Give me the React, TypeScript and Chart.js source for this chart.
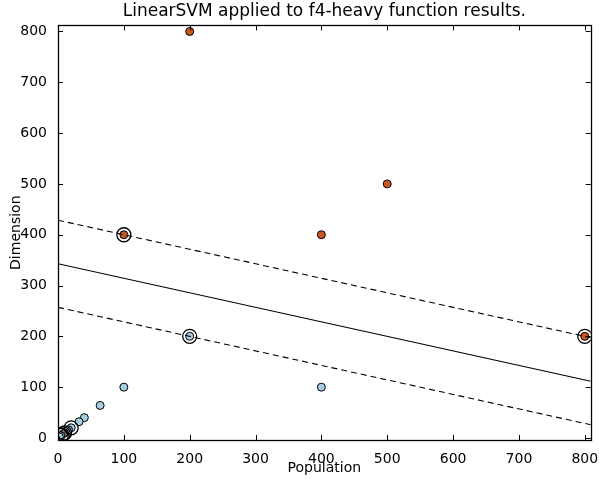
import React, { useEffect, useRef } from "react";
import { Chart, registerables } from "chart.js";
Chart.register(...registerables);

const TITLE = "LinearSVM applied to f4-heavy function results.";
const X_LABEL = "Population";
const Y_LABEL = "Dimension";

const redX = [200, 500, 400, 100, 800];
const redY = [800, 500, 400, 400, 200];

const blueX = [100, 400, 200, 64, 40, 32, 20, 16, 10, 8, 5, 4, 2];
const blueY = [100, 100, 200, 64, 40, 32, 20, 16, 10, 8, 5, 4, 2];

const svX = [100, 800, 200, 20, 10, 8, 5];
const svY = [400, 200, 200, 20, 10, 8, 5];

const lineX = [0, 809];
const solidY = [342.8, 111.7];
const upperY = [428.6, 197.4];
const lowerY = [257.1, 26.0];

const xTicks = [0, 100, 200, 300, 400, 500, 600, 700, 800];
const yTicks = [0, 100, 200, 300, 400, 500, 600, 700, 800];

const X_MIN = 0, X_MAX = 809, Y_MIN = -4, Y_MAX = 812;

const pts = (xs: number[], ys: number[]) => xs.map((x, i) => ({ x, y: ys[i] }));

const FONT = "'DejaVu Sans', sans-serif";

const framePlugin = {
  id: "frame",
  afterDatasetsDraw(chart: any) {
    const { ctx, chartArea: a, scales } = chart;
    ctx.save();
    ctx.strokeStyle = "#000";
    ctx.lineWidth = 1;
    ctx.beginPath();
    const L = 5;
    for (const v of xTicks) {
      const px = Math.round(scales.x.getPixelForValue(v)) + 0.5;
      ctx.moveTo(px, a.bottom);
      ctx.lineTo(px, a.bottom - L);
      ctx.moveTo(px, a.top);
      ctx.lineTo(px, a.top + L);
    }
    for (const v of yTicks) {
      const py = Math.round(scales.y.getPixelForValue(v)) + 0.5;
      ctx.moveTo(a.left, py);
      ctx.lineTo(a.left + L, py);
      ctx.moveTo(a.right, py);
      ctx.lineTo(a.right - L, py);
    }
    ctx.stroke();
    ctx.lineWidth = 1.3;
    ctx.strokeRect(Math.round(a.left) + 0.5, Math.round(a.top) + 0.5, Math.round(a.right - a.left), Math.round(a.bottom - a.top));
    ctx.restore();
  },
};

export default function App() {
  const ref = useRef<HTMLCanvasElement>(null);
  useEffect(() => {
    if (!ref.current) return;
    const lineDs = (ys: number[], dashed: boolean) => ({
      type: "line" as const,
      data: pts(lineX, ys),
      borderColor: "#000",
      borderWidth: 1.1,
      borderDash: dashed ? [6, 4] : [],
      pointRadius: 0,
      fill: false,
      showLine: true,
    });
    const chart = new Chart(ref.current, {
      type: "scatter",
      data: {
        datasets: [
          lineDs(solidY, false) as any,
          lineDs(upperY, true) as any,
          lineDs(lowerY, true) as any,
          {
            data: pts(svX, svY),
            pointRadius: 7,
            pointBackgroundColor: "rgba(0,0,0,0)",
            pointBorderColor: "#000",
            pointBorderWidth: 1.3,
          },
          {
            data: pts(blueX, blueY),
            pointRadius: 4,
            pointBackgroundColor: "#a6cee3",
            pointBorderColor: "#000",
            pointBorderWidth: 1,
          },
          {
            data: pts(redX, redY),
            pointRadius: 4,
            pointBackgroundColor: "#c8581f",
            pointBorderColor: "#000",
            pointBorderWidth: 1,
          },
        ],
      },
      options: {
        animation: false,
        responsive: false,
        maintainAspectRatio: false,
        layout: { padding: { left: 8, right: 5, top: 0, bottom: 2 } },
        plugins: {
          legend: { display: false },
          tooltip: { enabled: false },
          title: {
            display: true,
            fullSize: false,
            text: TITLE,
            color: "#000",
            font: { family: FONT, size: 17, weight: "normal" },
            padding: { top: 1, bottom: 4 },
          },
        },
        scales: {
          x: {
            type: "linear",
            min: X_MIN,
            max: X_MAX,
            grid: { display: false },
            border: { display: false },
            afterBuildTicks: (s: any) => { s.ticks = xTicks.map((v) => ({ value: v })); },
            afterFit: (s: any) => { s.height = 37; s.paddingLeft = 0; s.paddingRight = 0; },
            ticks: { color: "#000", font: { family: FONT, size: 14 }, padding: 3, maxRotation: 0, autoSkip: false },
            title: { display: true, text: X_LABEL, color: "#000", font: { family: FONT, size: 14 }, padding: { top: 0, bottom: 0 } },
          },
          y: {
            type: "linear",
            min: Y_MIN,
            max: Y_MAX,
            grid: { display: false },
            border: { display: false },
            afterBuildTicks: (s: any) => { s.ticks = yTicks.map((v) => ({ value: v })); },
            afterFit: (s: any) => { s.width = 50; s.paddingTop = 0; s.paddingBottom = 0; },
            ticks: { color: "#000", font: { family: FONT, size: 14 }, padding: 3, autoSkip: false },
            title: { display: true, text: Y_LABEL, color: "#000", font: { family: FONT, size: 14 }, padding: { top: 0, bottom: 1 } },
          },
        },
      },
      plugins: [framePlugin],
    });
    return () => chart.destroy();
  }, []);
  return (
    <div style={{ position: "fixed", left: 0, top: 0, width: 599, height: 479, background: "#fff" }}>
      <canvas ref={ref} width={599} height={479} style={{ display: "block" }} />
    </div>
  );
}
